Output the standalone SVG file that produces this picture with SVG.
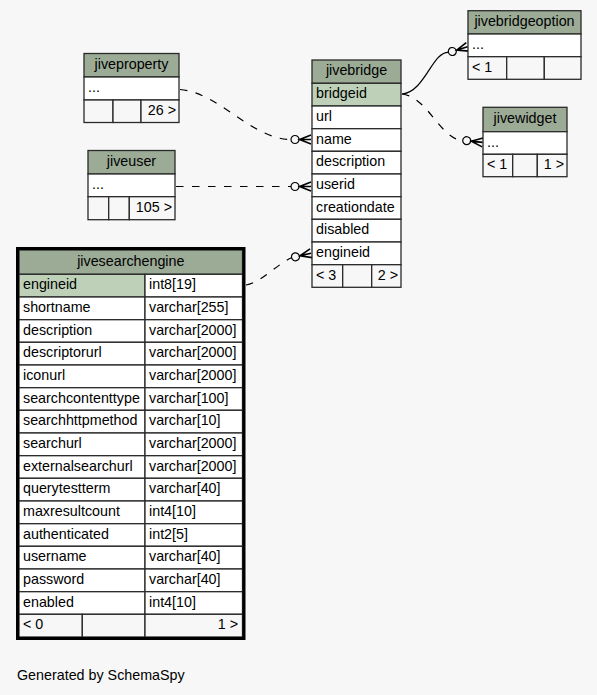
<svg xmlns="http://www.w3.org/2000/svg" xmlns:xlink="http://www.w3.org/1999/xlink" width="597" height="695" viewBox="0 0 597 695">
<style>
.hd{fill:#9bab96}
.pk{fill:#bed1b8}
.rw{fill:#ffffff}
.ft{fill:#f7f7f7}
rect.c{stroke:#2a2a2a;stroke-width:1.3}
text{font-family:"Liberation Sans",Arial,Helvetica,sans-serif;font-size:14.3px;fill:#000}
.m{text-anchor:middle}
.e{text-anchor:end}
.ln{fill:none;stroke:#000;stroke-width:1.2}
.ds{stroke-dasharray:7.5,8.5}
</style>
<defs>
<g id="co">
<circle cx="0" cy="0" r="4" fill="#f7f7f7" stroke="#000" stroke-width="1.2"/>
<path d="M4,0 H16 M16,-4.5 L4.6,0 L16,4.5" fill="none" stroke="#000" stroke-width="1.6"/>
</g>
</defs>
<rect x="0" y="0" width="597" height="695" fill="#f7f7f7"/>

<g id="connectors">
<path class="ln" d="M402,94 C425,92 432,52 448.3,52.3"/>
<use xlink:href="#co" href="#co" transform="translate(452.3,51.5) rotate(-17)"/>
<path class="ln ds" d="M402,94 C428,97 440,139 462.7,140.5"/>
<use xlink:href="#co" href="#co" transform="translate(466.7,140.7) rotate(6)"/>
<path class="ln ds" d="M180,89.5 C218,92 252,139.5 291,139.5"/>
<use xlink:href="#co" href="#co" transform="translate(295,139.5)"/>
<path class="ln ds" d="M176,186.5 L291,186.5"/>
<use xlink:href="#co" href="#co" transform="translate(295,186.5)"/>
<path class="ln ds" d="M246,285 C262,282 277,264 291.6,257.8"/>
<use xlink:href="#co" href="#co" transform="translate(295.5,256.8) rotate(-13)"/>
</g>

<g id="jiveproperty">
<rect class="c hd" x="84" y="53.5" width="95" height="23.5"/>
<text class="m" x="131.5" y="69">jiveproperty</text>
<rect class="c rw" x="84" y="77" width="95" height="23"/>
<text x="88" y="92">...</text>
<rect class="c ft" x="84" y="100" width="29" height="22.5"/>
<rect class="c ft" x="113" y="100" width="28" height="22.5"/>
<rect class="c ft" x="141" y="100" width="38" height="22.5"/>
<text class="e" x="176" y="115">26 &gt;</text>
</g>

<g id="jiveuser">
<rect class="c hd" x="88" y="150.5" width="87" height="23.5"/>
<text class="m" x="131.5" y="166">jiveuser</text>
<rect class="c rw" x="88" y="174" width="87" height="22.7"/>
<text x="92" y="189">...</text>
<rect class="c ft" x="88" y="196.7" width="20.7" height="23"/>
<rect class="c ft" x="108.7" y="196.7" width="20.6" height="23"/>
<rect class="c ft" x="129.3" y="196.7" width="45.7" height="23"/>
<text class="e" x="172" y="212">105 &gt;</text>
</g>

<g id="jivebridge">
<rect class="c hd" x="312" y="60" width="89" height="23.3"/>
<text class="m" x="356.5" y="75">jivebridge</text>
<rect class="c pk" x="312" y="83.3" width="89" height="22.7"/>
<text x="316" y="98.3">bridgeid</text>
<rect class="c rw" x="312" y="106" width="89" height="22.7"/>
<text x="316" y="121">url</text>
<rect class="c rw" x="312" y="128.7" width="89" height="22.6"/>
<text x="316" y="143.7">name</text>
<rect class="c rw" x="312" y="151.3" width="89" height="22.7"/>
<text x="316" y="166.3">description</text>
<rect class="c rw" x="312" y="174" width="89" height="22.7"/>
<text x="316" y="189">userid</text>
<rect class="c rw" x="312" y="196.7" width="89" height="22.6"/>
<text x="316" y="211.7">creationdate</text>
<rect class="c rw" x="312" y="219.3" width="89" height="22.7"/>
<text x="316" y="234.3">disabled</text>
<rect class="c rw" x="312" y="242" width="89" height="22.7"/>
<text x="316" y="257">engineid</text>
<rect class="c ft" x="312" y="264.7" width="30.7" height="22.6"/>
<rect class="c ft" x="342.7" y="264.7" width="29" height="22.6"/>
<rect class="c ft" x="371.7" y="264.7" width="29.3" height="22.6"/>
<text x="316" y="279.7">&lt; 3</text>
<text class="e" x="398" y="279.7">2 &gt;</text>
</g>

<g id="jivebridgeoption">
<rect class="c hd" x="468" y="10.7" width="113" height="23.3"/>
<text class="m" x="524.5" y="26">jivebridgeoption</text>
<rect class="c rw" x="468" y="34" width="113" height="22.7"/>
<text x="472" y="49">...</text>
<rect class="c ft" x="468" y="56.7" width="38.7" height="22.6"/>
<rect class="c ft" x="506.7" y="56.7" width="37.6" height="22.6"/>
<rect class="c ft" x="544.3" y="56.7" width="36.7" height="22.6"/>
<text x="472" y="71.7">&lt; 1</text>
</g>

<g id="jivewidget">
<rect class="c hd" x="483" y="107.3" width="84" height="24.4"/>
<text class="m" x="525" y="123">jivewidget</text>
<rect class="c rw" x="483" y="131.7" width="84" height="22.6"/>
<text x="487" y="146.7">...</text>
<rect class="c ft" x="483" y="154.3" width="29.7" height="22.4"/>
<rect class="c ft" x="512.7" y="154.3" width="24.6" height="22.4"/>
<rect class="c ft" x="537.3" y="154.3" width="29.7" height="22.4"/>
<text x="487" y="169.3">&lt; 1</text>
<text class="e" x="564" y="169.3">1 &gt;</text>
</g>

<g id="jivesearchengine">
<rect class="c hd" x="19" y="250" width="223.5" height="24.3"/>
<text class="m" x="130.8" y="266">jivesearchengine</text>
<rect class="c pk" x="19" y="274.3" width="126" height="22.7"/>
<rect class="c rw" x="145" y="274.3" width="97.5" height="22.7"/>
<text x="23" y="289.3">engineid</text><text x="149" y="289.3">int8[19]</text>
<rect class="c rw" x="19" y="297" width="126" height="22.7"/>
<rect class="c rw" x="145" y="297" width="97.5" height="22.7"/>
<text x="23" y="312">shortname</text><text x="149" y="312">varchar[255]</text>
<rect class="c rw" x="19" y="319.7" width="126" height="22.6"/>
<rect class="c rw" x="145" y="319.7" width="97.5" height="22.6"/>
<text x="23" y="334.7">description</text><text x="149" y="334.7">varchar[2000]</text>
<rect class="c rw" x="19" y="342.3" width="126" height="22.7"/>
<rect class="c rw" x="145" y="342.3" width="97.5" height="22.7"/>
<text x="23" y="357.3">descriptorurl</text><text x="149" y="357.3">varchar[2000]</text>
<rect class="c rw" x="19" y="365" width="126" height="22.7"/>
<rect class="c rw" x="145" y="365" width="97.5" height="22.7"/>
<text x="23" y="380">iconurl</text><text x="149" y="380">varchar[2000]</text>
<rect class="c rw" x="19" y="387.7" width="126" height="22.6"/>
<rect class="c rw" x="145" y="387.7" width="97.5" height="22.6"/>
<text x="23" y="402.7">searchcontenttype</text><text x="149" y="402.7">varchar[100]</text>
<rect class="c rw" x="19" y="410.3" width="126" height="22.7"/>
<rect class="c rw" x="145" y="410.3" width="97.5" height="22.7"/>
<text x="23" y="425.3">searchhttpmethod</text><text x="149" y="425.3">varchar[10]</text>
<rect class="c rw" x="19" y="433" width="126" height="22.7"/>
<rect class="c rw" x="145" y="433" width="97.5" height="22.7"/>
<text x="23" y="448">searchurl</text><text x="149" y="448">varchar[2000]</text>
<rect class="c rw" x="19" y="455.7" width="126" height="22.6"/>
<rect class="c rw" x="145" y="455.7" width="97.5" height="22.6"/>
<text x="23" y="470.7">externalsearchurl</text><text x="149" y="470.7">varchar[2000]</text>
<rect class="c rw" x="19" y="478.3" width="126" height="22.7"/>
<rect class="c rw" x="145" y="478.3" width="97.5" height="22.7"/>
<text x="23" y="493.3">querytestterm</text><text x="149" y="493.3">varchar[40]</text>
<rect class="c rw" x="19" y="501" width="126" height="22.7"/>
<rect class="c rw" x="145" y="501" width="97.5" height="22.7"/>
<text x="23" y="516">maxresultcount</text><text x="149" y="516">int4[10]</text>
<rect class="c rw" x="19" y="523.7" width="126" height="22.6"/>
<rect class="c rw" x="145" y="523.7" width="97.5" height="22.6"/>
<text x="23" y="538.7">authenticated</text><text x="149" y="538.7">int2[5]</text>
<rect class="c rw" x="19" y="546.3" width="126" height="22.7"/>
<rect class="c rw" x="145" y="546.3" width="97.5" height="22.7"/>
<text x="23" y="561.3">username</text><text x="149" y="561.3">varchar[40]</text>
<rect class="c rw" x="19" y="569" width="126" height="22.7"/>
<rect class="c rw" x="145" y="569" width="97.5" height="22.7"/>
<text x="23" y="584">password</text><text x="149" y="584">varchar[40]</text>
<rect class="c rw" x="19" y="591.7" width="126" height="22.6"/>
<rect class="c rw" x="145" y="591.7" width="97.5" height="22.6"/>
<text x="23" y="606.7">enabled</text><text x="149" y="606.7">int4[10]</text>
<rect class="c ft" x="19" y="614.3" width="63.3" height="22.7"/>
<rect class="c ft" x="82.3" y="614.3" width="62.7" height="22.7"/>
<rect class="c ft" x="145" y="614.3" width="97.5" height="22.7"/>
<text x="23" y="629.3">&lt; 0</text>
<text class="e" x="238" y="629.3">1 &gt;</text>
<rect x="17.5" y="248.5" width="226.5" height="390" fill="none" stroke="#000" stroke-width="3"/>
</g>

<text x="17" y="680">Generated by SchemaSpy</text>
</svg>
